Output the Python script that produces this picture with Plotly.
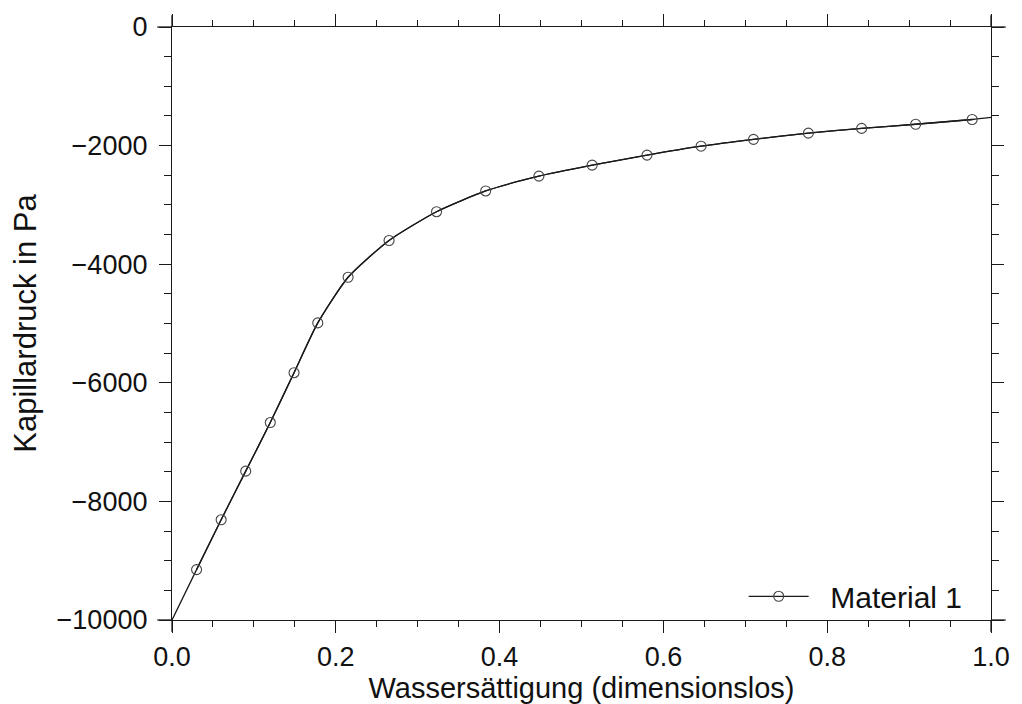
import plotly.graph_objects as go

# Data
sat_markers = [0.030, 0.060, 0.090, 0.120, 0.149, 0.178, 0.215, 0.265, 0.323, 0.383,
               0.448, 0.513, 0.580, 0.646, 0.710, 0.777, 0.842, 0.908, 0.977]
pc_markers = [-9150, -8310, -7490, -6670, -5830, -4990, -4220, -3600, -3115, -2765,
              -2515, -2330, -2160, -2010, -1895, -1790, -1710, -1640, -1560]
sat_start, pc_start = 0.0, -10000
sat_end, pc_end = 1.0, -1525

x_ticks = [0.0, 0.2, 0.4, 0.6, 0.8, 1.0]
y_ticks = [0, -2000, -4000, -6000, -8000, -10000]

FONT = "Liberation Sans, Arial, Helvetica, sans-serif"
INK = "#1a1a1a"

sat_line = [sat_start] + sat_markers + [sat_end]
pc_line = [pc_start] + pc_markers + [pc_end]

fig = go.Figure()
fig.add_trace(go.Scatter(
    x=sat_line, y=pc_line, mode="lines",
    line=dict(color=INK, width=1.3, shape="spline", smoothing=0.6),
    showlegend=False, hoverinfo="skip"))
fig.add_trace(go.Scatter(
    x=sat_markers, y=pc_markers, mode="lines+markers", name="\u00a0\u00a0Material 1",
    line=dict(color=INK, width=1.3, shape="spline", smoothing=0.6),
    marker=dict(symbol="circle-open", size=10, color="#444444", line=dict(width=1.1, color="#444444"))))

axis_common = dict(
    showgrid=False, zeroline=False, showline=True, linecolor=INK, linewidth=1.3,
    mirror="allticks", ticks="outside", tickcolor=INK, tickwidth=1.3, ticklen=12,
    tickfont=dict(family=FONT, size=27, color="#111111"),
)

fig.update_xaxes(
    range=[0, 1], tickvals=x_ticks, ticktext=[f"{v:.1f}" for v in x_ticks],
    minor=dict(dtick=0.05, ticks="outside", ticklen=6, tickcolor=INK, tickwidth=1.2),
    title=dict(text="Wassersättigung (dimensionslos)", font=dict(family=FONT, size=29, color="#111111"), standoff=0),
    **axis_common)
fig.update_yaxes(
    range=[-10000, 0], tickvals=y_ticks, ticktext=[("\u2212" + str(-v)) if v < 0 else "0" for v in y_ticks],
    minor=dict(dtick=500, ticks="outside", ticklen=7, tickcolor=INK, tickwidth=1.2),
    ticklabelstandoff=6,
    title=dict(text="Kapillardruck in Pa", font=dict(family=FONT, size=31, color="#111111"), standoff=10),
    **axis_common)

# small overshoot of the frame lines beyond the corners, as in the reference
ext = [
    dict(type="line", xref="paper", yref="paper", x0=-0.018, x1=0, y0=0, y1=0),
    dict(type="line", xref="paper", yref="paper", x0=1, x1=1.018, y0=0, y1=0),
    dict(type="line", xref="paper", yref="paper", x0=-0.018, x1=0, y0=1, y1=1),
    dict(type="line", xref="paper", yref="paper", x0=1, x1=1.018, y0=1, y1=1),
    dict(type="line", xref="paper", yref="paper", x0=0, x1=0, y0=-0.02, y1=0),
    dict(type="line", xref="paper", yref="paper", x0=0, x1=0, y0=1, y1=1.02),
    dict(type="line", xref="paper", yref="paper", x0=1, x1=1, y0=-0.02, y1=0),
    dict(type="line", xref="paper", yref="paper", x0=1, x1=1, y0=1, y1=1.02),
]
for s in ext:
    s["line"] = dict(color=INK, width=1.3)
fig.update_layout(shapes=ext)

fig.update_layout(
    width=1022, height=704,
    margin=dict(l=172, r=26, t=24, b=83),
    paper_bgcolor="white", plot_bgcolor="white",
    font=dict(family=FONT, color="#111111"),
    legend=dict(x=0.698, y=0.04, xanchor="left", yanchor="middle",
                bgcolor="rgba(0,0,0,0)", borderwidth=0,
                font=dict(family=FONT, size=30, color="#111111"),
                itemwidth=60),
)

fig.write_html("out.html")
